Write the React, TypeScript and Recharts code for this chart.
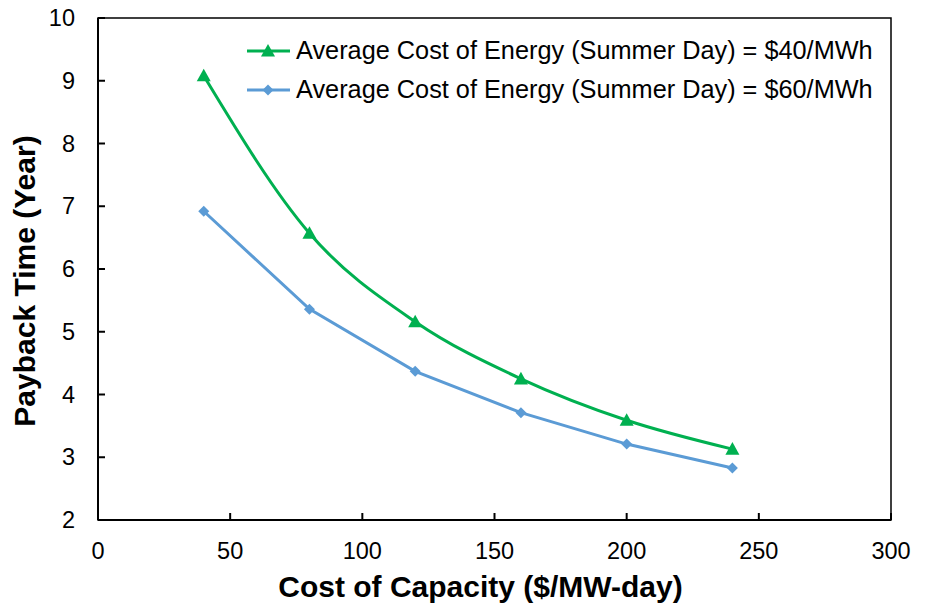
import React from "react";
import {
  LineChart,
  Line,
  XAxis,
  YAxis,
  Legend,
  ReferenceArea,
} from "recharts";

const capacityCost = [40, 80, 120, 160, 200, 240];
const payback40 = [9.08, 6.57, 5.16, 4.25, 3.59, 3.13];
const payback60 = [6.92, 5.36, 4.37, 3.71, 3.21, 2.83];

const xTicks = [0, 50, 100, 150, 200, 250, 300];
const yTicks = [2, 3, 4, 5, 6, 7, 8, 9, 10];

const series = [
  { key: "e40", name: "Average Cost of Energy (Summer Day) = $40/MWh", color: "#00B050", shape: "triangle" },
  { key: "e60", name: "Average Cost of Energy (Summer Day) = $60/MWh", color: "#5B9BD5", shape: "diamond" },
];

const data = capacityCost.map((c, i) => ({ cost: c, e40: payback40[i], e60: payback60[i] }));

const FONT = "Arial, 'Liberation Sans', sans-serif";
const TICK_FONT = 23.5;

function Marker({ cx, cy, shape, color }: { cx: number; cy: number; shape: string; color: string }) {
  if (shape === "triangle") {
    const s = 7;
    return (
      <path
        d={`M${cx},${cy - s} L${cx + s},${cy + s * 0.8} L${cx - s},${cy + s * 0.8} Z`}
        fill={color}
      />
    );
  }
  const s = 5.5;
  return <path d={`M${cx},${cy - s} L${cx + s},${cy} L${cx},${cy + s} L${cx - s},${cy} Z`} fill={color} />;
}

function makeDot(shape: string, color: string) {
  return (props: any) => {
    const { cx, cy, index } = props;
    if (cx == null || cy == null) return <g key={index} />;
    return <Marker key={index} cx={cx} cy={cy} shape={shape} color={color} />;
  };
}

function LegendBox() {
  return (
    <div style={{ fontFamily: FONT, fontSize: 25.3, color: "#000", lineHeight: 1 }}>
      {series.map((s) => (
        <div key={s.key} style={{ display: "flex", alignItems: "center", height: 39 }}>
          <svg width={46} height={20} style={{ marginRight: 4 }}>
            <line x1={1} y1={10} x2={44} y2={10} stroke={s.color} strokeWidth={3} />
            <Marker cx={22} cy={10} shape={s.shape} color={s.color} />
          </svg>
          <span style={{ whiteSpace: "nowrap" }}>{s.name}</span>
        </div>
      ))}
    </div>
  );
}

function XTick({ x, y, payload }: any) {
  return (
    <text x={x} y={y + 16} textAnchor="middle" fill="#000" style={{ fontSize: TICK_FONT, fontFamily: FONT }}>
      {payload.value}
    </text>
  );
}

function YTick({ x, y, payload }: any) {
  return (
    <text x={x} y={y + 8} textAnchor="end" fill="#000" style={{ fontSize: TICK_FONT, fontFamily: FONT }}>
      {payload.value}
    </text>
  );
}

const labelStyle = { fill: "#000", fontSize: 30, fontWeight: "bold" as const, fontFamily: FONT };

function XTitle({ viewBox }: any) {
  return (
    <text x={viewBox.x + viewBox.width / 2 - 14} y={viewBox.y + 77} textAnchor="middle" {...labelStyle}>
      Cost of Capacity ($/MW-day)
    </text>
  );
}

function YTitle({ viewBox }: any) {
  const x = viewBox.x - 3;
  const y = viewBox.y + viewBox.height / 2 + 12;
  return (
    <text x={x} y={y} textAnchor="middle" transform={`rotate(-90, ${x}, ${y})`} {...labelStyle}>
      Payback Time (Year)
    </text>
  );
}

export default function App() {
  return (
    <div style={{ position: "absolute", left: 0, top: 0, width: 926, height: 603, background: "#fff" }}>
      <LineChart
        width={926}
        height={603}
        data={data}
        margin={{ top: 18, right: 35, bottom: 23, left: 38 }}
      >
        <XAxis
          dataKey="cost"
          type="number"
          domain={[0, 300]}
          ticks={xTicks}
          height={60}
          tickSize={-7}
          tickMargin={30}
          axisLine={{ stroke: "#000", strokeWidth: 2 }}
          tickLine={{ stroke: "#000", strokeWidth: 2 }}
          tick={<XTick />}
          label={<XTitle />}
        />
        <YAxis
          type="number"
          domain={[2, 10]}
          ticks={yTicks}
          width={60}
          tickSize={-7}
          tickMargin={30}
          axisLine={{ stroke: "#000", strokeWidth: 2 }}
          tickLine={{ stroke: "#000", strokeWidth: 2 }}
          tick={<YTick />}
          label={<YTitle />}
        />
        <ReferenceArea x1={0} x2={300} y1={2} y2={10} fill="none" stroke="#000" strokeWidth={1.5} />
        <Legend
          layout="horizontal"
          verticalAlign="middle"
          align="center"
          content={() => <LegendBox />}
          wrapperStyle={{ left: 246, top: 31, width: "auto" }}
        />
        <Line
          dataKey="e40"
          name={series[0].name}
          type="monotone"
          stroke={series[0].color}
          strokeWidth={3}
          dot={makeDot("triangle", series[0].color)}
          activeDot={false}
          isAnimationActive={false}
        />
        <Line
          dataKey="e60"
          name={series[1].name}
          type="linear"
          stroke={series[1].color}
          strokeWidth={3}
          dot={makeDot("diamond", series[1].color)}
          activeDot={false}
          isAnimationActive={false}
        />
      </LineChart>
    </div>
  );
}
